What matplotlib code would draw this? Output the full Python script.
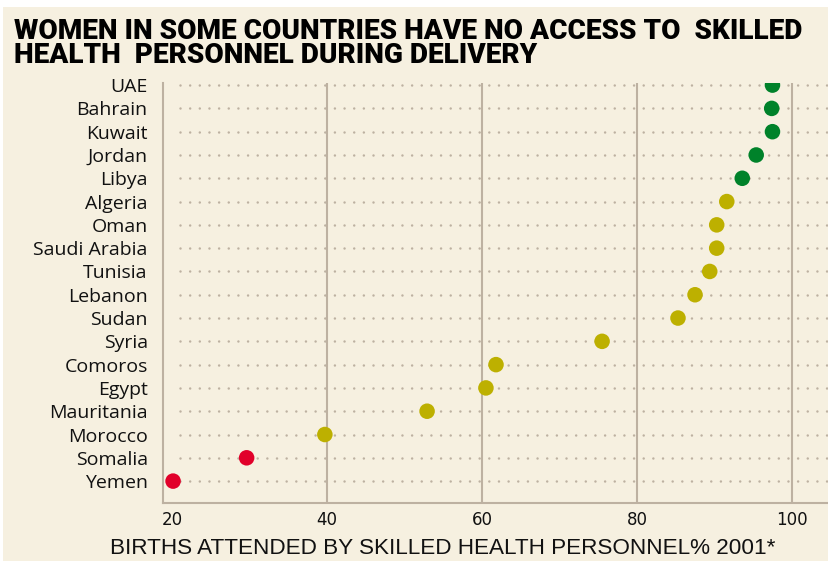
import matplotlib
matplotlib.use("Agg")
import matplotlib.pyplot as plt
from matplotlib.patches import Rectangle

countries = ["UAE", "Bahrain", "Kuwait", "Jordan", "Libya", "Algeria", "Oman",
             "Saudi Arabia", "Tunisia", "Lebanon", "Sudan", "Syria", "Comoros",
             "Egypt", "Mauritania", "Morocco", "Somalia", "Yemen"]
values = [97.5, 97.4, 97.5, 95.4, 93.6, 91.6, 90.3, 90.3, 89.4, 87.5, 85.3,
          75.5, 61.8, 60.5, 52.9, 39.7, 29.6, 20.1]
groups = ["high"] * 5 + ["mid"] * 11 + ["low"] * 2
xticks = [20, 40, 60, 80, 100]

colors = {"high": "#00822A", "mid": "#BDB000", "low": "#E1002A"}
bg = "#F6F0E0"
grid_c = "#BDB1A1"

fig = plt.figure(figsize=(8.29, 5.61), dpi=100)
fig.patch.set_facecolor("white")
fig.add_artist(Rectangle((3 / 829, 0), 1, 1 - 7 / 561, transform=fig.transFigure,
                         facecolor=bg, edgecolor="none", zorder=-10))

ax = fig.add_axes([163 / 829, 1 - 503 / 561, 1 - 163 / 829, (503 - 83) / 561])
ax.set_facecolor(bg)
ax.patch.set_alpha(0)

n = len(countries)
ys = list(range(n))
ax.set_xlim(18.8, 104.8)
ax.set_ylim(n - 1 + 0.94, -0.09)

for x in xticks[1:]:
    ax.axvline(x, color=grid_c, lw=1.5, zorder=1)
for y in ys:
    ax.plot([21, 104.8], [y, y], color=grid_c, linestyle=(0, (0.01, 3.85)),
            lw=1.8, dash_capstyle="round", zorder=1)

ax.scatter(values, ys, s=125, c=[colors[g] for g in groups], zorder=3,
           linewidths=0)

ax.set_yticks(ys)
ax.set_yticklabels(countries, fontfamily="Open Sans", fontsize=14, color="#111111")
ax.set_xticks(xticks)
ax.set_xticklabels([str(t) for t in xticks], fontfamily="DejaVu Sans", fontsize=12,
                   color="#111111")
ax.tick_params(axis="both", length=0)
ax.tick_params(axis="y", pad=11)
ax.tick_params(axis="x", pad=6)

for s in ["top", "right"]:
    ax.spines[s].set_visible(False)
for s in ["left", "bottom"]:
    ax.spines[s].set_color(grid_c)
    ax.spines[s].set_linewidth(1.5)

fig.text(443 / 829, 1 - 548 / 561, "BIRTHS ATTENDED BY SKILLED HEALTH PERSONNEL% 2001*",
         ha="center", va="center", fontfamily="Liberation Sans", fontsize=16.2,
         color="#111111")

title = fig.text(14 / 829, 1 - 18 / 561,
                 "WOMEN IN SOME COUNTRIES HAVE NO ACCESS TO  SKILLED\nHEALTH  PERSONNEL DURING DELIVERY",
                 ha="left", va="top", fontfamily="Roboto", fontweight=900,
                 fontsize=19, linespacing=0.88, color="black")
# fit the title width to the reference (786 px)
r = fig.canvas.get_renderer()
w = title.get_window_extent(r).width
title.set_fontsize(19 * 786 / w)

fig.savefig("out.png", dpi=100, facecolor=fig.get_facecolor())
